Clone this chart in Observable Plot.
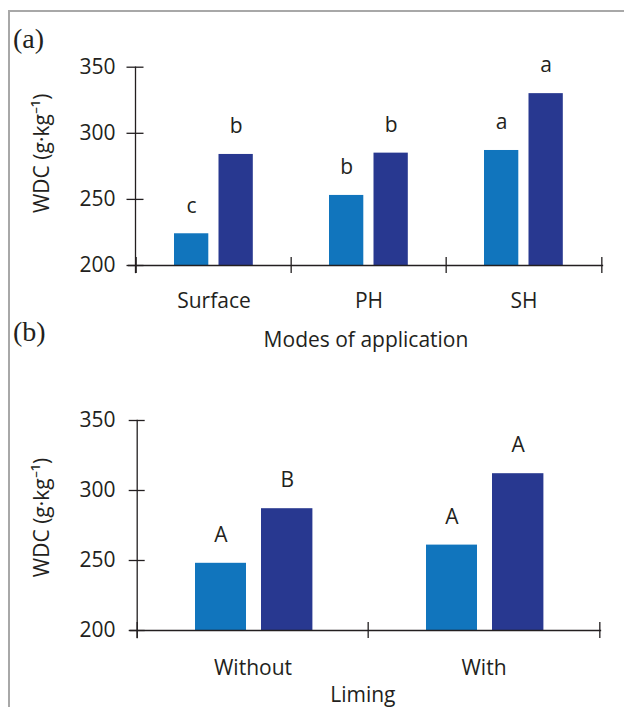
<!DOCTYPE html>
<html>
<head>
<meta charset="utf-8">
<script src="https://cdn.jsdelivr.net/npm/d3@7"></script>
<script src="https://cdn.jsdelivr.net/npm/@observablehq/plot@0.6"></script>
<style>
html, body { margin: 0; padding: 0; background: #fff; }
#root { position: relative; width: 624px; height: 707px; overflow: hidden; font-family: "Open Sans", sans-serif; }
#frame { position: absolute; left: 8px; top: 10px; right: -5px; bottom: -5px; border-left: 2px solid #a8a8a8; border-top: 2px solid #a8a8a8; }
.panel { position: absolute; left: 0; }
.tag { position: absolute; font-family: "Liberation Serif", "DejaVu Serif", serif; font-size: 28px; line-height: 28px; color: #231f20; }
</style>
</head>
<body>
<div id="root">
  <div id="frame"></div>
  <div class="tag" style="left:13px; top:25px;">(a)</div>
  <div class="tag" style="left:13px; top:318px;">(b)</div>
</div>
<script>
// ---- data ----
const yDomain = [200, 350];
const yTicks = [200, 250, 300, 350];
const yTitle = "WDC (g\u00B7kg\u207B\u00B9)";
const colors = ["#1175bd", "#283890"];

const categoriesA = ["Surface", "PH", "SH"];
const series1A = [224, 253, 287];
const series2A = [284, 285, 330];
const letters1A = ["c", "b", "a"];
const letters2A = ["b", "b", "a"];
const xTitleA = "Modes of application";

const categoriesB = ["Without", "With"];
const series1B = [248, 261];
const series2B = [287, 312];
const letters1B = ["A", "A"];
const letters2B = ["B", "A"];
const xTitleB = "Liming";

const W = 624;
const ink = "#231f20";

function panel(o) {
  const rows = o.cats.map((c, i) => ({cat: c, v1: o.s1[i], v2: o.s2[i], t1: o.l1[i], t2: o.l2[i]}));
  const bw = (W - o.ml - o.mr) / o.cats.length;
  const fs = 21;
  return Plot.plot({
    width: W,
    height: o.height,
    marginTop: o.mt,
    marginBottom: o.mb,
    marginLeft: o.ml,
    marginRight: o.mr,
    style: {fontFamily: "Open Sans", fontSize: fs + "px", color: ink, background: "transparent", overflow: "visible"},
    x: {domain: o.cats, padding: 0, axis: null, label: null},
    y: {domain: yDomain, axis: null, label: null},
    marks: [
      Plot.barY(rows, {x: "cat", y1: yDomain[0], y2: "v1", fill: colors[0], insetLeft: o.in1[0], insetRight: o.in1[1]}),
      Plot.barY(rows, {x: "cat", y1: yDomain[0], y2: "v2", fill: colors[1], insetLeft: o.in2[0], insetRight: o.in2[1]}),
      Plot.text(rows, {x: "cat", y: "v1", text: "t1", dy: -28, dx: (o.in1[0] - o.in1[1]) / 2, fontSize: fs, fill: ink}),
      Plot.text(rows, {x: "cat", y: "v2", text: "t2", dy: -28, dx: (o.in2[0] - o.in2[1]) / 2, fontSize: fs, fill: ink}),
      Plot.frame({anchor: "left", insetBottom: -7, stroke: ink, strokeWidth: 1.3}),
      Plot.frame({anchor: "bottom", insetLeft: -7, stroke: ink, strokeWidth: 1.3}),
      Plot.axisY(yTicks, {tickSize: o.yts, dx: o.yts / 2, tickPadding: o.ytp, tickFormat: d => String(d), label: null, fontSize: fs, stroke: ink, fill: ink, strokeWidth: 1.3}),
      Plot.axisX({tickSize: 16, dx: -bw / 2, dy: -8, tickFormat: () => "", label: null, stroke: ink, strokeWidth: 1.3}),
      Plot.axisX([o.cats[o.cats.length - 1]], {tickSize: 16, dx: bw / 2, dy: -8, tickFormat: () => "", label: null, stroke: ink, strokeWidth: 1.3}),
      Plot.axisX({tickSize: 0, tickPadding: o.xtp, label: null, fontSize: fs, fill: ink}),
      Plot.text([o.xTitle], {frameAnchor: "bottom", textAnchor: "middle", lineAnchor: "middle", dx: o.xTitleDx, dy: o.xTitleDy, fontSize: fs, fill: ink}),
      Plot.text([yTitle], {frameAnchor: "left", textAnchor: "middle", lineAnchor: "middle", rotate: -90, dx: o.yTitleDx, dy: o.yTitleDy, fontSize: fs, fill: ink})
    ]
  });
}

const root = document.getElementById("root");

const a = panel({
  cats: categoriesA, s1: series1A, s2: series2A, l1: letters1A, l2: letters2A, xTitle: xTitleA,
  height: 360, mt: 66.7, mb: 95, ml: 135, mr: 22,
  in1: [38, 82.7], in2: [82.5, 38.2],
  yts: 17, ytp: 11.5, xtp: 27.7, xTitleDx: -3, xTitleDy: 75, yTitleDx: -93, yTitleDy: -13
});
a.classList.add("panel");
a.style.top = "0px";
root.appendChild(a);

const b = panel({
  cats: categoriesB, s1: series1B, s2: series2B, l1: letters1B, l2: letters2B, xTitle: xTitleB,
  height: 347, mt: 60, mb: 77, ml: 136.7, mr: 24,
  in1: [58, 122], in2: [124, 55.6],
  yts: 16, ytp: 13.7, xtp: 30, xTitleDx: -6, xTitleDy: 64.5, yTitleDx: -94.7, yTitleDy: -8
});
b.classList.add("panel");
b.style.top = "360px";
root.appendChild(b);
</script>
</body>
</html>
